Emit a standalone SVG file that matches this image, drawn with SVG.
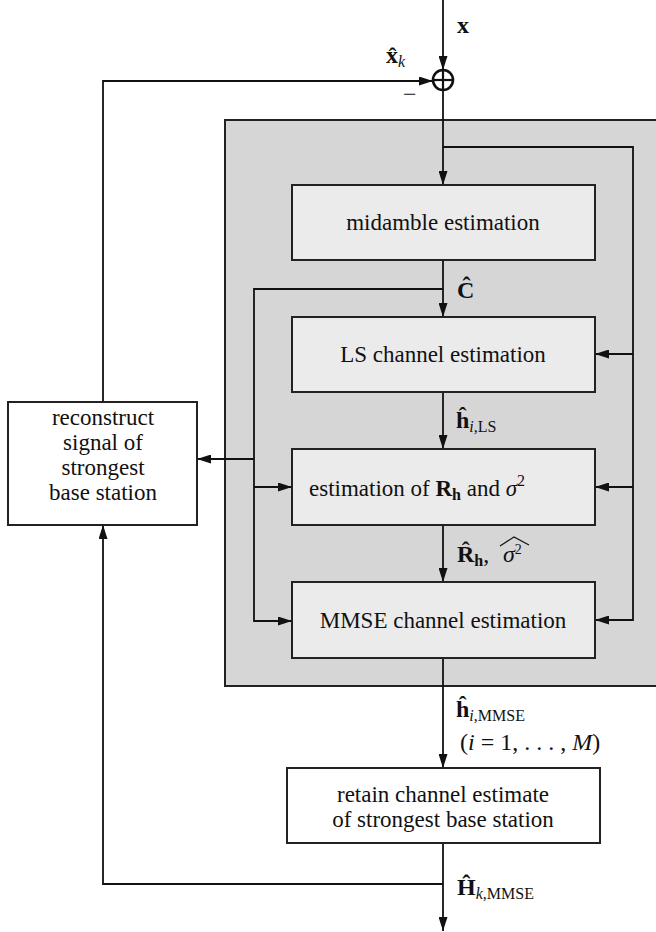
<svg xmlns="http://www.w3.org/2000/svg" width="656" height="932" viewBox="0 0 656 932">
<style>
.panel{fill:#d6d6d6;stroke:#222;stroke-width:2}
.box{fill:#ebebeb;stroke:#222;stroke-width:2}
.wbox{fill:#fff;stroke:#222;stroke-width:2}
.con{fill:none;stroke:#111;stroke-width:1.8}
.t{font-family:"Liberation Serif","Times New Roman",serif;font-size:23px;fill:#111}
.m{font-family:"Liberation Serif","Times New Roman",serif;font-size:24px;fill:#111}
.b{font-weight:bold}
.i{font-style:italic}
.s{font-size:16px}
</style>
<defs>
<marker id="ar" markerWidth="15" markerHeight="9" refX="14" refY="4.5" orient="auto" markerUnits="userSpaceOnUse">
<path d="M0,0 L14,4.5 L0,9 z" fill="#111"/>
</marker>
</defs>
<rect class="panel" x="225" y="120" width="432" height="566"/>
<g id="connectors">
<line class="con" x1="443" y1="0" x2="443" y2="70" marker-end="url(#ar)"/>
<path class="con" d="M103,402 V81 H433" marker-end="url(#ar)"/>
<line class="con" x1="443" y1="90" x2="443" y2="185" marker-end="url(#ar)"/>
<path class="con" d="M443,147 H633 V620 H595" marker-end="url(#ar)"/>
<path class="con" d="M633,354 H595" marker-end="url(#ar)"/>
<path class="con" d="M633,487 H595" marker-end="url(#ar)"/>
<line class="con" x1="443" y1="260" x2="443" y2="317" marker-end="url(#ar)"/>
<path class="con" d="M443,289 H254 V621 H292" marker-end="url(#ar)"/>
<path class="con" d="M254,487 H292" marker-end="url(#ar)"/>
<path class="con" d="M254,459 H197" marker-end="url(#ar)"/>
<line class="con" x1="443" y1="392" x2="443" y2="449" marker-end="url(#ar)"/>
<line class="con" x1="443" y1="525" x2="443" y2="582" marker-end="url(#ar)"/>
<line class="con" x1="443" y1="658" x2="443" y2="768" marker-end="url(#ar)"/>
<line class="con" x1="443" y1="843" x2="443" y2="931" marker-end="url(#ar)"/>
<path class="con" d="M443,884 H103 V525" marker-end="url(#ar)"/>
</g>
<g id="sum">
<circle cx="443" cy="80" r="10" fill="#fff" stroke="#111" stroke-width="2.6"/>
<line x1="433" y1="80" x2="453" y2="80" stroke="#111" stroke-width="2.2"/>
<line x1="443" y1="70" x2="443" y2="90" stroke="#111" stroke-width="2.2"/>
</g>
<g id="midamble">
<rect class="box" x="292" y="185" width="303" height="75"/>
<text class="t" x="443" y="230" text-anchor="middle">midamble estimation</text>
</g>
<g id="ls">
<rect class="box" x="292" y="317" width="303" height="75"/>
<text class="t" x="443" y="362" text-anchor="middle">LS channel estimation</text>
</g>
<g id="est">
<rect class="box" x="292" y="449" width="303" height="76"/>
<text class="t" x="309" y="496">estimation of <tspan class="b">R</tspan><tspan class="b s" dy="4">h</tspan><tspan dy="-4">  and </tspan><tspan class="i">σ</tspan><tspan class="s" dy="-10">2</tspan></text>
</g>
<g id="mmse">
<rect class="box" x="292" y="582" width="303" height="76"/>
<text class="t" x="443" y="628" text-anchor="middle">MMSE channel estimation</text>
</g>
<g id="reconstruct">
<rect class="wbox" x="8" y="402" width="189" height="123"/>
<text class="t" x="103" y="425" text-anchor="middle">reconstruct</text>
<text class="t" x="103" y="450" text-anchor="middle">signal of</text>
<text class="t" x="103" y="475" text-anchor="middle">strongest</text>
<text class="t" x="103" y="500" text-anchor="middle">base station</text>
</g>
<g id="retain">
<rect class="wbox" x="287" y="768" width="313" height="75"/>
<text class="t" x="443" y="802" text-anchor="middle">retain channel estimate</text>
<text class="t" x="443" y="827" text-anchor="middle">of strongest base station</text>
</g>
<g id="labels">
<text class="m b" x="457" y="33">x</text>
<text class="m" x="386" y="63"><tspan class="b">x̂</tspan><tspan class="i s" dy="4">k</tspan></text>
<text class="m" x="403" y="102">−</text>
<text class="m b" x="457" y="298">Ĉ</text>
<text class="m" x="456" y="428"><tspan class="b">ĥ</tspan><tspan class="s" dy="4"><tspan class="i">i</tspan>,LS</tspan></text>
<text class="m" x="457" y="562"><tspan class="b">R̂</tspan><tspan class="b s" dy="4">h</tspan><tspan dy="-4">,</tspan></text>
<text class="m" x="503" y="562"><tspan class="i">σ</tspan><tspan style="font-size:14px" dy="-8">2</tspan></text>
<path d="M500,546 L514,537 L529,545" fill="none" stroke="#111" stroke-width="1.2"/>
<text class="m" x="456" y="717"><tspan class="b">ĥ</tspan><tspan class="s" dy="4"><tspan class="i">i</tspan>,MMSE</tspan></text>
<text class="m" x="460" y="750">(<tspan class="i">i</tspan> = 1, . . . , <tspan class="i">M</tspan>)</text>
<text class="m" x="457" y="895"><tspan class="b">Ĥ</tspan><tspan class="s" dy="4"><tspan class="i">k</tspan>,MMSE</tspan></text>
</g>
</svg>
